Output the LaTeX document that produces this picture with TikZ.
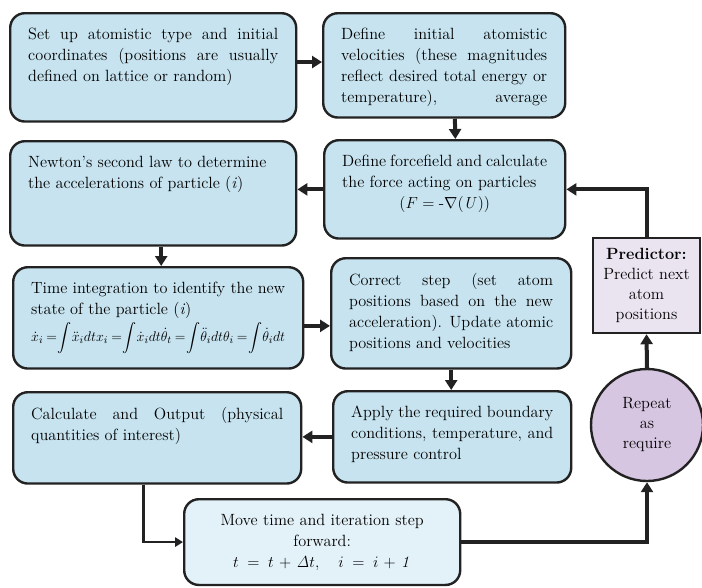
\documentclass[tikz,border=0pt]{standalone}
\usepackage{amsmath}
\usepackage{graphicx}
\usetikzlibrary{arrows.meta,positioning}

% one pixel of the layout grid
\newdimen\px \px=0.75pt

\definecolor{stageblue}{HTML}{C6E3EF}
\definecolor{paleblue}{HTML}{E3F1F8}
\definecolor{paleviolet}{HTML}{EAE4F1}
\definecolor{loopviolet}{HTML}{D7C6E1}
\definecolor{edgegray}{HTML}{222222}

% top-aligned paragraph of a given height inside a stage box
\newcommand{\stagetext}[2]{\parbox[t][#1\px][t]{\linewidth}{%
  \hyphenpenalty=10000\relax\exhyphenpenalty=10000\relax #2}}

\tikzset{
  stage/.style={draw=edgegray, line width=1.8pt, fill=stageblue, rounded corners=11pt,
    anchor=north west, inner xsep=13.5pt, inner ysep=11pt, align=justify,
    font=\fontsize{12.2}{15.75}\selectfont},
  flow/.style={draw=edgegray, line width=3pt, -{Triangle[length=7.5pt,width=9pt]}},
  thinflow/.style={draw=edgegray, line width=2pt, -{Triangle[length=6pt,width=7pt]}}
}

\begin{document}
\begin{tikzpicture}[x=1\px, y=-1\px]

    % Fix the page size
    \useasboundingbox (0,0) rectangle (702,587);

    % Top row
    \node[stage, text width=250\px] (setup) at (9,12) {\stagetext{79}{%
      Set up atomistic type and initial\linebreak
      coordinates (positions are usually\linebreak
      defined on lattice or random)}};
    \node[stage, text width=206\px] (velo) at (322,12) {\stagetext{75}{%
      Define initial atomistic\linebreak
      velocities (these magnitudes\linebreak
      reflect desired total energy or\linebreak
      temperature),\hfill average}};

    % Second row
    \node[stage, text width=250\px] (newton) at (9,140) {\stagetext{75}{%
      Newton's second law to determine\\
      the accelerations of particle (\textit{i})}};
    \node[stage, text width=205\px] (force) at (323,139) {\stagetext{69}{%
      Define forcefield and calculate\\
      the force acting on particles\par
      {\centering $(F = \mbox{-}\nabla(\mathit{U}))$\par}}};

    % Third row
    \node[stage, text width=254\px] (integ) at (12,266) {\stagetext{72}{%
      Time integration to identify the new\linebreak
      state of the particle (\textit{i})\par\vspace{2pt}
      \resizebox{\linewidth}{!}{\thickmuskip=4mu\relax
      $\displaystyle \dot{x}_i = \!\int\! \ddot{x}_i dt x_i = \!\int\! \dot{x}_i dt \dot{\theta}_t
      = \!\int\! \ddot{\theta}_i dt \theta_i = \!\int\! \dot{\theta}_i dt$}}};
    \node[stage, text width=204\px] (correct) at (330,257) {\stagetext{81}{%
      Correct step (set atom\linebreak
      positions based on the new\linebreak
      acceleration). Update atomic\linebreak
      positions and velocities}};

    % Fourth row
    \node[stage, text width=252\px] (calc) at (12,391) {\stagetext{62}{%
      Calculate and Output (physical\linebreak
      quantities of interest)}};
    \node[stage, text width=202\px] (apply) at (332,390) {\stagetext{62}{%
      Apply the required boundary\linebreak
      conditions, temperature, and\linebreak
      pressure control}};

    % Time step box
    \node[stage, fill=paleblue, text width=240\px, minimum height=82\px, align=center]
      (move) at (183,498) {Move time and iteration step\\ forward:\\
      $t = t + \mathit{\Delta} t,\quad i = i + \mathit{1}$};

    % Predictor and loop
    \node[draw=edgegray, line width=1.8pt, fill=paleviolet, minimum width=107\px,
      minimum height=95\px, align=center, inner sep=2pt,
      font=\fontsize{12.2}{15}\selectfont] (pred) at (646.5,285.5)
      {\textbf{Predictor:}\\ Predict next\\ atom\\ positions};
    \node[draw=edgegray, line width=1.8pt, fill=loopviolet, circle, minimum size=112\px,
      align=center, inner sep=0pt, font=\fontsize{12.2}{15}\selectfont] (repeat) at (647,425)
      {Repeat\\ as\\ require};

    % Arrows
    \draw[flow] ([yshift=4pt]setup.east) -- ([yshift=4pt]setup.east -| velo.west);
    \draw[flow] ([xshift=8pt]velo.south) -- ([xshift=8pt]force.north);
    \draw[flow] (force.west) -- (force.west -| newton.east);
    \draw[flow] ([xshift=6pt]newton.south) -- ([xshift=6pt]newton.south |- integ.north);
    \draw[flow] ([yshift=-6pt]integ.east) -- ([yshift=-6pt]integ.east -| correct.west);
    \draw[flow] (correct.south) -- (correct.south |- apply.north);
    \draw[flow] (apply.west) -- (apply.west -| calc.east);
    \draw[thinflow] ([xshift=-10.5pt]calc.south) |- (move.west);
    \draw[flow] (move.east) -| (repeat.south);
    \draw[flow] (repeat.north) -- (pred.south);
    \draw[flow] (pred.north) |- (force.east);

\end{tikzpicture}
\end{document}
